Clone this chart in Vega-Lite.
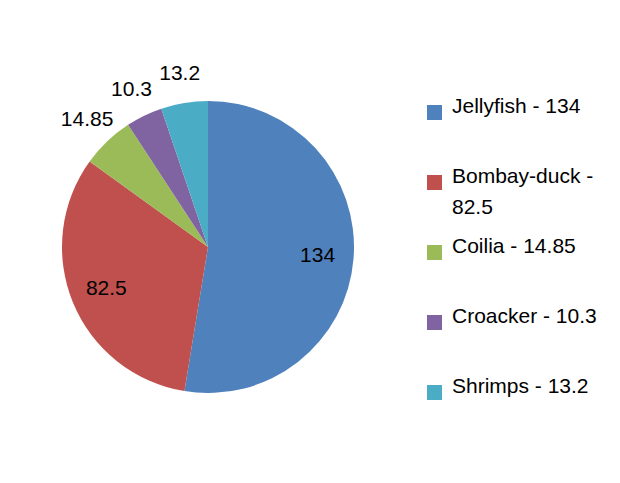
{
  "$schema": "https://vega.github.io/schema/vega-lite/v6.json",
  "width": 416,
  "height": 472,
  "autosize": "none",
  "padding": {"left": 0, "top": 11, "right": 204, "bottom": 0},
  "background": "#ffffff",
  "config": {"view": {"stroke": null}},
  "data": {
    "values": [
      {"name": "Jellyfish", "value": 134, "legend": "Jellyfish - 134", "idx": 1},
      {"name": "Bombay-duck", "value": 82.5, "legend": "Bombay-duck - 82.5", "idx": 2},
      {"name": "Coilia", "value": 14.85, "legend": "Coilia - 14.85", "idx": 3},
      {"name": "Croacker", "value": 10.3, "legend": "Croacker - 10.3", "idx": 4},
      {"name": "Shrimps", "value": 13.2, "legend": "Shrimps - 13.2", "idx": 5}
    ]
  },
  "encoding": {
    "theta": {"field": "value", "type": "quantitative", "stack": true},
    "order": {"field": "idx", "type": "quantitative"}
  },
  "layer": [
    {
      "mark": {"type": "arc", "outerRadius": 146},
      "encoding": {
        "color": {
          "field": "legend",
          "type": "nominal",
          "scale": {
            "domain": ["Jellyfish - 134", "Bombay-duck - 82.5", "Coilia - 14.85", "Croacker - 10.3", "Shrimps - 13.2"],
            "range": ["#4F81BD", "#C0504D", "#9BBB59", "#8064A2", "#4BACC6"]
          },
          "legend": {
            "orient": "none",
            "legendX": 424,
            "legendY": 91,
            "title": null,
            "symbolType": "square",
            "symbolSize": 225,
            "symbolStrokeWidth": 0,
            "symbolOpacity": 1,
            "labelFontSize": 21,
            "labelFont": "Liberation Sans",
            "labelColor": "#000000",
            "labelOffset": 7,
            "labelLimit": 0,
            "labelBaseline": "alphabetic",
            "gridAlign": "all",
            "rowPadding": 17,
            "encode": {"labels": {"update": {"lineHeight": {"value": 31}}}},
            "labelExpr": "datum.label == 'Bombay-duck - 82.5' ? ['Bombay-duck -', '82.5'] : datum.label"
          }
        }
      }
    },
    {
      "mark": {"type": "text", "radius": 110, "fontSize": 21, "font": "Liberation Sans", "color": "#000000"},
      "encoding": {
        "text": {"condition": {"test": "datum.value > 50", "field": "value", "type": "quantitative"}, "value": ""}
      }
    },
    {
      "mark": {"type": "text", "radius": 175, "fontSize": 21, "font": "Liberation Sans", "color": "#000000"},
      "encoding": {
        "text": {"condition": {"test": "datum.value <= 50", "field": "value", "type": "quantitative"}, "value": ""}
      }
    }
  ]
}
